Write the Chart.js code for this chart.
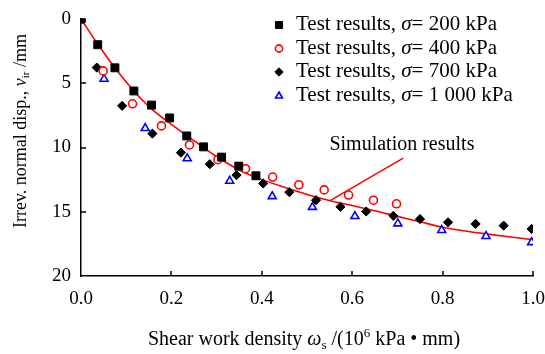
<!DOCTYPE html>
<html>
<head>
<meta charset="utf-8">
<script src="https://cdn.jsdelivr.net/npm/chart.js@4.4.0/dist/chart.umd.min.js"></script>
<style>
  html, body { margin: 0; padding: 0; background: #fff; }
  #wrap { width: 545px; height: 354px; }
</style>
</head>
<body>
<div id="wrap"><canvas id="chart" width="545" height="354"></canvas></div>
<script>
  // Test results (x: shear work density, y: irreversible normal disp.)
  const x200 = [0, 0.037, 0.075, 0.117, 0.156, 0.196, 0.234, 0.271, 0.311, 0.349, 0.387];
  const y200 = [0, 2.0, 3.8, 5.6, 6.7, 7.7, 9.1, 9.95, 10.75, 11.45, 12.2];

  const x400 = [0, 0.049, 0.114, 0.178, 0.24, 0.303, 0.364, 0.424, 0.482, 0.538, 0.592, 0.647, 0.698];
  const y400 = [0, 4.04, 6.6, 8.32, 9.8, 10.95, 11.65, 12.3, 12.9, 13.3, 13.7, 14.1, 14.38];

  const x700 = [0, 0.035, 0.091, 0.158, 0.221, 0.285, 0.344, 0.403, 0.461, 0.52, 0.574, 0.631, 0.691, 0.75, 0.812, 0.873, 0.935, 0.997];
  const y700 = [0, 3.78, 6.76, 8.92, 10.4, 11.3, 12.15, 12.8, 13.48, 14.1, 14.62, 14.98, 15.32, 15.57, 15.82, 15.95, 16.08, 16.34];

  const x1000 = [0, 0.051, 0.142, 0.235, 0.329, 0.423, 0.512, 0.606, 0.701, 0.798, 0.896, 0.997];
  const y1000 = [0, 4.66, 8.5, 10.85, 12.6, 13.8, 14.64, 15.35, 15.92, 16.43, 16.9, 17.38];

  // Simulation curve
  const simX = [0, 0.04, 0.075, 0.117, 0.156, 0.2, 0.25, 0.3, 0.35, 0.4, 0.45, 0.5, 0.55, 0.6, 0.65, 0.7, 0.75, 0.8, 0.85, 0.9, 0.95, 1.0];
  const simY = [0, 2.1, 3.8, 5.6, 7.0, 8.2, 9.47, 10.7, 11.75, 12.5, 13.1, 13.65, 14.13, 14.52, 14.92, 15.36, 15.78, 16.2, 16.5, 16.74, 16.96, 17.17];

  const xTicks = [0, 0.2, 0.4, 0.6, 0.8, 1.0];
  const yTicks = [0, 5, 10, 15, 20];

  const legendLabels = ['200', '400', '700', '1 000'];

  // annotation anchor in data units: [x, y] of the leader start/end and text
  const annotLine = [[0.551, 14.14], [0.713, 10.82]];
  const annotText = [0.71, 10.18];

  const FONT = '"Liberation Serif", "Times New Roman", serif';
  Chart.defaults.font.family = FONT;
  Chart.defaults.color = '#000';

  const pairs = (xs, ys) => xs.map((x, i) => ({ x: x, y: ys[i] }));

  function drawRich(ctx, parts, x, y, size, align) {
    const fontFor = p => (p.it ? 'italic ' : '') + Math.round(p.sub || p.sup ? size * 0.65 : size) + 'px ' + FONT;
    let total = 0;
    parts.forEach(p => { ctx.font = fontFor(p); total += ctx.measureText(p.t).width; });
    let cx = align === 'center' ? x - total / 2 : x;
    ctx.textAlign = 'left';
    ctx.textBaseline = 'alphabetic';
    parts.forEach(p => {
      ctx.font = fontFor(p);
      const dy = p.sub ? size * 0.22 : (p.sup ? -size * 0.4 : 0);
      ctx.fillText(p.t, cx, y + dy);
      cx += ctx.measureText(p.t).width;
    });
  }

  // tick marks pointing into the plot
  const inwardTicks = {
    id: 'inwardTicks',
    beforeDatasetsDraw(chart) {
      const ctx = chart.ctx;
      const area = chart.chartArea;
      const xs = chart.scales.x, ys = chart.scales.y;
      ctx.save();
      ctx.strokeStyle = '#000';
      ctx.lineWidth = 1.5;
      ctx.beginPath();
      xs.ticks.forEach(t => {
        if (t.value === 0) return;
        const px = Math.round(xs.getPixelForValue(t.value));
        ctx.moveTo(px, area.bottom);
        ctx.lineTo(px, area.bottom - 5);
      });
      ys.ticks.forEach(t => {
        if (t.value === 20) return;
        const py = Math.round(ys.getPixelForValue(t.value));
        ctx.moveTo(area.left, py);
        ctx.lineTo(area.left + 5, py);
      });
      ctx.stroke();
      ctx.restore();
    }
  };

  // axis titles, legend and annotation with italic / sub / superscript parts
  const decorations = {
    id: 'decorations',
    afterDraw(chart) {
      const ctx = chart.ctx;
      const area = chart.chartArea;
      const xs = chart.scales.x, ys = chart.scales.y;
      ctx.save();
      ctx.fillStyle = '#000';

      // x title
      drawRich(ctx, [
        { t: 'Shear work density ' },
        { t: 'ω', it: true },
        { t: 's', sub: true },
        { t: ' /(10' },
        { t: '6', sup: true },
        { t: ' kPa • mm)' }
      ], (area.left + area.right) / 2 - 3, 345, 20, 'center');

      // y title
      ctx.save();
      ctx.translate(25.5, 131);
      ctx.rotate(-Math.PI / 2);
      drawRich(ctx, [
        { t: 'Irrev. normal disp., ' },
        { t: 'v', it: true },
        { t: 'ir', sub: true },
        { t: ' /mm' }
      ], 0, 0, 17.5, 'center');
      ctx.restore();

      // legend
      const legX = 279, textX = 296, rowY = [25, 48.5, 72, 96];
      chart.data.datasets.slice(0, 4).forEach((ds, i) => {
        ctx.save();
        ctx.fillStyle = ds.pointBackgroundColor;
        ctx.strokeStyle = ds.pointBorderColor;
        ctx.lineWidth = ds.pointBorderWidth;
        Chart.helpers.drawPoint(ctx, {
          pointStyle: ds.pointStyle,
          radius: ds.legendRadius,
          borderWidth: ds.pointBorderWidth,
          rotation: 0
        }, legX, rowY[i]);
        ctx.restore();
        ctx.fillStyle = '#000';
        drawRich(ctx, [
          { t: 'Test results, ' },
          { t: 'σ', it: true },
          { t: '= ' + legendLabels[i] + ' kPa' }
        ], textX, rowY[i] + 5, 20.5, 'left');
      });

      // annotation
      ctx.strokeStyle = '#ff0000';
      ctx.lineWidth = 1.5;
      ctx.beginPath();
      ctx.moveTo(xs.getPixelForValue(annotLine[0][0]), ys.getPixelForValue(annotLine[0][1]));
      ctx.lineTo(xs.getPixelForValue(annotLine[1][0]), ys.getPixelForValue(annotLine[1][1]));
      ctx.stroke();
      ctx.fillStyle = '#000';
      drawRich(ctx, [{ t: 'Simulation results' }],
        xs.getPixelForValue(annotText[0]), ys.getPixelForValue(annotText[1]), 20, 'center');

      ctx.restore();
    }
  };

  new Chart(document.getElementById('chart').getContext('2d'), {
    type: 'scatter',
    data: {
      datasets: [
        {
          label: '200 kPa', data: pairs(x200, y200), showLine: false,
          pointStyle: 'rect', pointRadius: 5.6, legendRadius: 5,
          pointBackgroundColor: '#000', pointBorderColor: '#000', pointBorderWidth: 1
        },
        {
          label: '400 kPa', data: pairs(x400, y400), showLine: false,
          pointStyle: 'circle', pointRadius: 4, legendRadius: 3.6,
          pointBackgroundColor: '#fff', pointBorderColor: '#ff0000', pointBorderWidth: 1.6
        },
        {
          label: '700 kPa', data: pairs(x700, y700), showLine: false,
          pointStyle: 'rectRot', pointRadius: 4.6, legendRadius: 4.2,
          pointBackgroundColor: '#000', pointBorderColor: '#000', pointBorderWidth: 1
        },
        {
          label: '1 000 kPa', data: pairs(x1000, y1000), showLine: false,
          pointStyle: 'triangle', pointRadius: 4.6, legendRadius: 4,
          pointBackgroundColor: '#fff', pointBorderColor: '#0000ff', pointBorderWidth: 1.6
        },
        {
          label: 'Simulation', data: pairs(simX, simY), showLine: true,
          borderColor: '#ff0000', borderWidth: 1.6, pointRadius: 0,
          cubicInterpolationMode: 'monotone', fill: false
        }
      ]
    },
    options: {
      responsive: false,
      animation: false,
      events: [],
      layout: { padding: { top: 19, right: 12, left: 0, bottom: 0 } },
      plugins: {
        legend: { display: false },
        tooltip: { enabled: false }
      },
      scales: {
        x: {
          type: 'linear',
          position: 'bottom',
          min: 0,
          max: 1,
          afterBuildTicks: scale => { scale.ticks = xTicks.map(v => ({ value: v })); },
          afterFit: scale => {
            scale.height = 78;
            scale.paddingLeft = 0;
            scale.paddingRight = 0;
          },
          grid: { display: false, drawTicks: false },
          border: { display: true, color: '#000', width: 1.5 },
          ticks: {
            color: '#000',
            padding: 12,
            maxRotation: 0,
            font: { family: FONT, size: 19 },
            callback: v => Number(v).toFixed(1)
          }
        },
        y: {
          type: 'linear',
          reverse: true,
          min: 0,
          max: 20,
          afterBuildTicks: scale => { scale.ticks = yTicks.map(v => ({ value: v })); },
          afterFit: scale => {
            scale.width = 81;
            scale.paddingTop = 0;
            scale.paddingBottom = 0;
          },
          grid: { display: false, drawTicks: false },
          border: { display: true, color: '#000', width: 1.5 },
          ticks: {
            color: '#000',
            padding: 10,
            font: { family: FONT, size: 19 },
            callback: v => String(v)
          }
        }
      }
    },
    plugins: [inwardTicks, decorations]
  });
</script>
</body>
</html>
